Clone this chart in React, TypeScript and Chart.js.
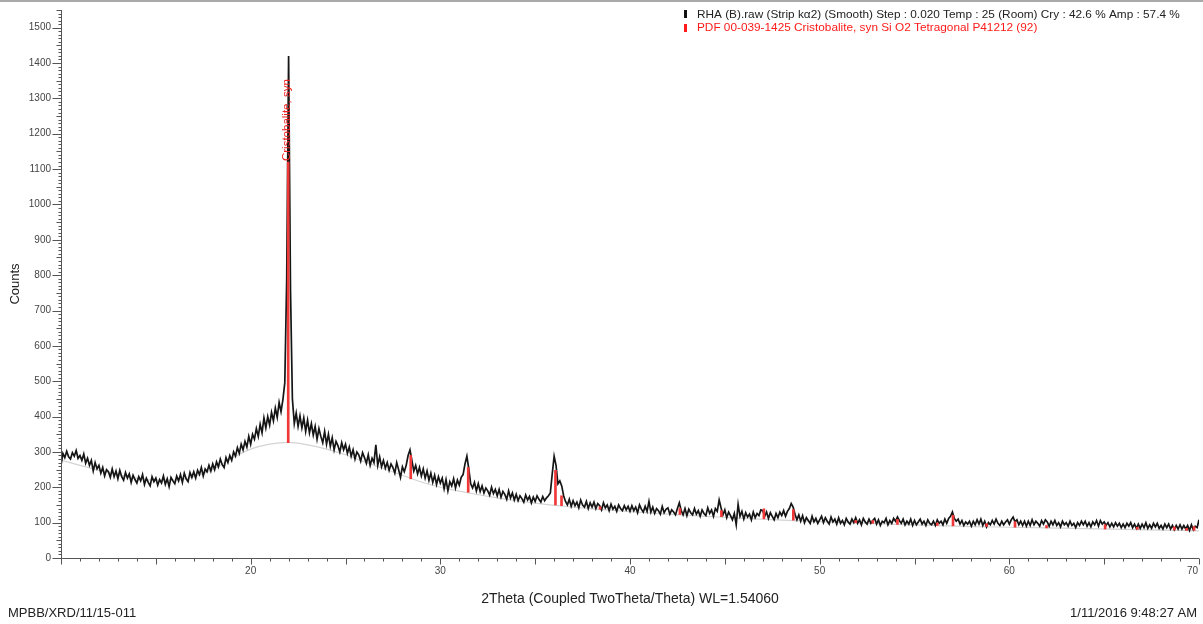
import React, { useEffect, useRef } from "react";
import { Chart, registerables } from "chart.js";

Chart.register(...registerables);

// ---- Data (2Theta scan) ----
const twoThetaStart = 10;
const twoThetaStep = 0.1;

const counts10to20 = [
  262, 296, 284, 302, 286, 280, 298, 288, 304, 282,
  290, 276, 294, 268, 282, 262, 276, 246, 270, 252,
  262, 240, 256, 232, 250, 244, 228, 252, 230, 246,
  224, 248, 230, 220, 242, 226, 238, 214, 234, 222,
  212, 230, 218, 236, 208, 226, 214, 204, 230, 216,
  226, 206, 222, 212, 232, 208, 224, 202, 228, 218,
  210, 232, 218, 236, 214, 240, 224, 216, 242, 228,
  244, 226, 248, 236, 256, 232, 252, 244, 262, 246,
  266, 250, 272, 258, 280, 264, 256, 284, 270, 290,
  276, 300, 288, 312, 296, 322, 306, 330, 314, 344,
];
const counts20to30 = [
  322, 350, 336, 366, 344, 378, 354, 396, 368, 400,
  376, 412, 388, 424, 398, 440, 414, 448, 496, 790,
  1420, 760, 450, 380, 410, 372, 402, 368, 396, 358,
  390, 354, 380, 348, 372, 336, 366, 344, 326, 358,
  322, 350, 316, 340, 306, 330, 318, 300, 326, 306,
  322, 296, 314, 288, 306, 280, 300, 292, 274, 298,
  284, 268, 292, 262, 282, 270, 320, 262, 286, 258,
  276, 254, 270, 248, 266, 256, 240, 270, 250, 228,
  258, 244, 262, 290, 306, 276, 246, 262, 238, 256,
  232, 252, 226, 246, 220, 240, 214, 234, 208, 230,
];
const counts30to40 = [
  212, 226, 196, 222, 190, 216, 204, 224, 198, 220,
  206, 228, 236, 266, 288, 252, 210, 198, 214, 190,
  210, 188, 204, 184, 198, 190, 178, 200, 182, 194,
  176, 194, 172, 188, 180, 166, 190, 170, 184, 164,
  180, 162, 176, 168, 158, 178, 164, 174, 156, 172,
  160, 176, 166, 158, 174, 162, 170, 176, 184, 238,
  288, 262, 210, 218, 204, 176, 160, 150, 166, 146,
  162, 148, 158, 142, 164, 150, 144, 160, 140, 156,
  144, 158, 140, 154, 148, 136, 156, 142, 150, 134,
  152, 138, 146, 132, 150, 140, 134, 148, 136, 146,
];
const counts40to50 = [
  132, 148, 134, 144, 128, 150, 138, 130, 146, 132,
  160, 130, 144, 126, 140, 134, 124, 146, 128, 138,
  142, 124, 136, 130, 122, 140, 156, 134, 122, 140,
  120, 138, 128, 122, 140, 124, 134, 118, 136, 126,
  120, 142, 126, 136, 118, 140, 132, 164, 142, 122,
  136, 114, 130, 120, 108, 126, 94, 152, 118, 132,
  110, 128, 116, 124, 108, 130, 114, 126, 120, 136,
  134, 118, 130, 112, 128, 118, 108, 126, 114, 130,
  120, 134, 118, 132, 140, 154, 144, 124, 108, 122,
  104, 120, 100, 114, 106, 98, 118, 102, 112, 98,
];
const counts50to60 = [
  108, 118, 100, 114, 104, 96, 116, 102, 110, 96,
  114, 98, 106, 94, 112, 102, 96, 110, 100, 114,
  98, 108, 94, 112, 102, 96, 110, 98, 106, 112,
  96, 108, 92, 104, 100, 112, 94, 106, 98, 112,
  104, 116, 106, 98, 110, 94, 104, 96, 110, 92,
  106, 94, 102, 110, 96, 104, 92, 108, 98, 94,
  104, 92, 108, 98, 104, 94, 110, 98, 112, 118,
  130, 112, 104, 110, 96, 106, 92, 102, 96, 104,
  90, 104, 94, 108, 96, 110, 92, 104, 88, 100,
  94, 106, 96, 110, 98, 92, 104, 94, 102, 108,
];
const counts60to70 = [
  96, 108, 116, 102, 108, 94, 104, 92, 104, 90,
  104, 92, 108, 94, 104, 98, 90, 106, 96, 108,
  102, 90, 104, 94, 106, 92, 100, 88, 104, 94,
  100, 90, 104, 92, 98, 86, 100, 92, 104, 94,
  104, 90, 100, 88, 102, 94, 106, 90, 106, 96,
  102, 92, 100, 88, 98, 88, 100, 90, 98, 86,
  96, 86, 98, 90, 100, 86, 96, 84, 96, 84,
  96, 86, 100, 84, 94, 84, 98, 88, 98, 84,
  92, 82, 96, 86, 96, 82, 92, 80, 92, 82,
  94, 82, 92, 82, 92, 78, 94, 80, 90, 86,
  108,
];

// amorphous background (grey curve)
const backgroundTwoTheta = [
  10, 11, 12, 13, 14, 15, 16, 17, 18, 19, 20, 21, 22, 23, 24, 25, 26, 27, 28, 29,
  30, 31, 32, 33, 34, 35, 36, 37, 38, 39, 40, 42, 44, 46, 48, 50, 52, 54, 56, 58,
  60, 62, 64, 66, 68, 70,
];
const backgroundCounts = [
  277, 262, 248, 236, 226, 220, 220, 230, 250, 282, 308, 322, 327, 320, 308, 292, 272, 253, 234, 215,
  200, 189, 179, 170, 162, 155, 149, 144, 139, 135, 131, 124, 118, 112, 107, 103, 99, 95, 92, 89,
  87, 85, 83, 81, 79, 77,
];

// PDF 00-039-1425 Cristobalite sticks
const stickTwoTheta = [
  21.98, 28.44, 31.47, 36.07, 36.39, 38.42, 42.63, 44.82, 47.06, 48.61, 51.9, 52.8,
  54.1, 56.2, 57.03, 58.8, 60.3, 61.96, 65.05, 66.75, 68.7, 69.35, 69.74,
];
const stickBase = [
  326, 224, 186, 150, 148, 138, 123, 117, 111, 107, 100, 98,
  95, 92, 91, 89, 87, 85, 82, 81, 79, 78, 78,
];
const stickTop = [
  1120, 290, 256, 248, 176, 145, 140, 134, 139, 137, 106, 106,
  109, 99, 121, 97, 103, 92, 94, 87, 88, 84, 89,
];
const stickLabel = "Cristobalite, syn";

const xTickLabels = [20, 30, 40, 50, 60, 70];
const yTickLabels = [0, 100, 200, 300, 400, 500, 600, 700, 800, 900, 1000, 1100, 1200, 1300, 1400, 1500];

const legendScan = "RHA (B).raw (Strip kα2) (Smooth) Step : 0.020 Temp : 25 (Room) Cry : 42.6 % Amp : 57.4 %";
const legendPdf = "PDF 00-039-1425 Cristobalite, syn Si O2 Tetragonal P41212 (92)";
const xTitle = "2Theta (Coupled TwoTheta/Theta) WL=1.54060";
const yTitle = "Counts";
const footerLeft = "MPBB/XRD/11/15-011";
const footerRight = "1/11/2016 9:48:27 AM";

const FONT = "'Liberation Sans', Arial, sans-serif";

const counts = [
  ...counts10to20,
  ...counts20to30,
  ...counts30to40,
  ...counts40to50,
  ...counts50to60,
  ...counts60to70,
];

const decorPlugin = {
  id: "xrdDecor",
  beforeDraw(chart: any) {
    const ctx = chart.ctx;
    ctx.save();
    ctx.fillStyle = "#ffffff";
    ctx.fillRect(0, 0, chart.width, chart.height);
    ctx.fillStyle = "#a9a9a9";
    ctx.fillRect(0, 0, chart.width, 2);
    ctx.restore();
  },
  afterDraw(chart: any) {
    const ctx = chart.ctx;
    const xs = chart.scales.x;
    const ys = chart.scales.y;
    const { left, right, top, bottom } = chart.chartArea;
    ctx.save();

    // axis lines
    ctx.strokeStyle = "#555";
    ctx.lineWidth = 1;
    ctx.beginPath();
    ctx.moveTo(Math.round(left) + 0.5, top);
    ctx.lineTo(Math.round(left) + 0.5, bottom);
    ctx.moveTo(left, Math.round(bottom) + 0.5);
    ctx.lineTo(right, Math.round(bottom) + 0.5);
    ctx.stroke();

    // y ticks
    ctx.beginPath();
    for (let v = 0; v <= ys.max; v += 10) {
      const len = v % 100 === 0 ? 9 : v % 50 === 0 ? 5 : 3;
      const y = Math.round(ys.getPixelForValue(v)) + 0.5;
      ctx.moveTo(Math.round(left) + 0.5 - len, y);
      ctx.lineTo(Math.round(left) + 0.5, y);
    }
    // x ticks
    for (let d = xs.min; d <= xs.max; d += 1) {
      const len = d % 5 === 0 ? 6 : 3;
      const x = Math.round(xs.getPixelForValue(d)) + 0.5;
      ctx.moveTo(x, Math.round(bottom) + 0.5);
      ctx.lineTo(x, Math.round(bottom) + 0.5 + len);
    }
    ctx.stroke();

    // tick labels
    ctx.fillStyle = "#444";
    ctx.font = `10px ${FONT}`;
    ctx.textAlign = "right";
    ctx.textBaseline = "middle";
    yTickLabels.forEach((v) => {
      ctx.fillText(String(v), left - 10, ys.getPixelForValue(v));
    });
    xTickLabels.forEach((v) => {
      const x = xs.getPixelForValue(v);
      const w = ctx.measureText(String(v)).width;
      if (x + w / 2 > chart.width - 2) {
        ctx.textAlign = "right";
        ctx.fillText(String(v), chart.width - 5, bottom + 13);
      } else {
        ctx.textAlign = "center";
        ctx.fillText(String(v), x, bottom + 13);
      }
    });

    // axis titles & footers
    ctx.fillStyle = "#222";
    ctx.font = `14px ${FONT}`;
    ctx.textAlign = "center";
    ctx.fillText(xTitle, (left + right) / 2, 599);
    ctx.font = `13px ${FONT}`;
    ctx.save();
    ctx.translate(15, (top + bottom) / 2);
    ctx.rotate(-Math.PI / 2);
    ctx.fillText(yTitle, 0, 0);
    ctx.restore();
    ctx.textAlign = "left";
    ctx.fillText(footerLeft, 8, 613);
    ctx.textAlign = "right";
    ctx.fillText(footerRight, 1197, 613);

    // stick label
    const sx = xs.getPixelForValue(stickTwoTheta[0]);
    const sy = ys.getPixelForValue(stickTop[0]) - 1;
    ctx.save();
    ctx.translate(sx, sy);
    ctx.rotate(-Math.PI / 2);
    ctx.fillStyle = "#ee2222";
    ctx.font = `11.5px ${FONT}`;
    ctx.textAlign = "left";
    ctx.textBaseline = "middle";
    ctx.fillText(stickLabel, 0, -1.5);
    ctx.restore();

    // legend
    ctx.font = `11.8px ${FONT}`;
    ctx.textAlign = "left";
    ctx.textBaseline = "middle";
    ctx.fillStyle = "#111";
    ctx.fillRect(684, 10, 3, 8);
    ctx.fillStyle = "#222";
    ctx.fillText(legendScan, 697, 14.5);
    ctx.fillStyle = "#ff1a1a";
    ctx.fillRect(684, 24, 3, 8);
    ctx.fillText(legendPdf, 697, 28);

    ctx.restore();
  },
};

export default function App() {
  const canvasRef = useRef<HTMLCanvasElement | null>(null);

  useEffect(() => {
    document.body.style.margin = "0";
    const canvas = canvasRef.current;
    if (!canvas) return;

    const scanData = counts.map((y, i) => ({ x: twoThetaStart + i * twoThetaStep, y }));
    const bgData = backgroundTwoTheta.map((x, i) => ({ x, y: backgroundCounts[i] }));
    const stickData = stickTwoTheta.map((x, i) => ({ x, y: [stickBase[i], stickTop[i]] }));

    const chart = new Chart(canvas, {
      type: "line",
      data: {
        datasets: [
          {
            type: "bar",
            label: legendPdf,
            data: stickData as any,
            backgroundColor: "#f03838",
            borderWidth: 0,
            barThickness: 2,
            grouped: false,
            order: 0,
          } as any,
          {
            type: "line",
            label: legendScan,
            data: scanData,
            borderColor: "#151515",
            borderWidth: 1.7,
            pointRadius: 0,
            tension: 0,
            order: 1,
          },
          {
            type: "line",
            label: "Background",
            data: bgData,
            borderColor: "#d4d4d4",
            borderWidth: 1.2,
            pointRadius: 0,
            cubicInterpolationMode: "monotone",
            order: 2,
          },
        ],
      },
      options: {
        responsive: false,
        animation: false,
        devicePixelRatio: 1,
        layout: { padding: { left: 61, right: 4, top: 10, bottom: 66 } },
        plugins: {
          legend: { display: false },
          tooltip: { enabled: false },
        },
        scales: {
          x: { type: "linear", min: 10, max: 70, display: false, offset: false },
          y: { type: "linear", min: 0, max: 1550, display: false },
        },
      },
      plugins: [decorPlugin],
    });

    return () => chart.destroy();
  }, []);

  return (
    <div style={{ width: 1203, height: 624, position: "relative" }}>
      <canvas ref={canvasRef} width={1203} height={624} style={{ display: "block" }} />
    </div>
  );
}
